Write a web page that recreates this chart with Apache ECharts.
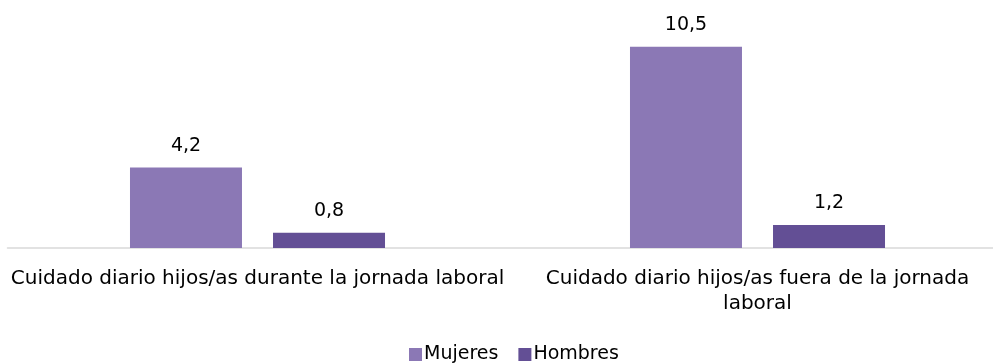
<!DOCTYPE html>
<html>
<head>
<meta charset="utf-8">
<script src="https://cdn.jsdelivr.net/npm/echarts@6/dist/echarts.min.js"></script>
<style>
  html, body { margin: 0; padding: 0; background: #fff; overflow: hidden; }
  #chart { width: 1008px; height: 364px; }
</style>
</head>
<body>
<div id="chart"></div>
<script>
// Daily childcare hours by sex
const categories = [
  'Cuidado diario hijos/as durante la jornada laboral',
  'Cuidado diario hijos/as fuera de la jornada\nlaboral'
];
const seriesNames = ['Mujeres', 'Hombres'];
const mujeres = [4.2, 10.5];
const hombres = [0.8, 1.2];

const FONT = 'DejaVu Sans';
const fmt = v => String(v).replace('.', ',');

const chart = echarts.init(document.getElementById('chart'));
chart.setOption({
  animation: false,
  textStyle: { fontFamily: FONT },
  grid: { left: 7.5, right: 0.5, top: 18, height: 230, containLabel: false },
  legend: {
    top: 340,
    left: 404,
    itemWidth: 13,
    itemHeight: 13,
    itemGap: 20,
    icon: 'rect',
    textStyle: { fontFamily: FONT, fontSize: 19, color: '#000', padding: [0, 0, 0, -3] },
    data: seriesNames
  },
  xAxis: {
    type: 'category',
    data: categories,
    axisLine: { lineStyle: { color: '#d9d9d9', width: 1.5 } },
    axisTick: { show: false },
    axisLabel: {
      fontFamily: FONT, fontSize: 20, color: '#000', margin: 18,
      lineHeight: 25, interval: 0, align: 'center'
    }
  },
  yAxis: {
    type: 'value', min: 0, max: 12,
    show: false,
    splitLine: { show: false }
  },
  series: [
    {
      name: seriesNames[0], type: 'bar', data: mujeres,
      barWidth: 112, barGap: '27.7%',
      itemStyle: { color: '#8b78b5' },
      label: { show: true, position: 'top', distance: 12, fontSize: 19, color: '#000', fontFamily: FONT,
               formatter: p => fmt(p.value) }
    },
    {
      name: seriesNames[1], type: 'bar', data: hombres,
      barWidth: 112, barGap: '27.7%',
      itemStyle: { color: '#634f95' },
      label: { show: true, position: 'top', distance: 12, fontSize: 19, color: '#000', fontFamily: FONT,
               formatter: p => fmt(p.value) }
    }
  ]
});
</script>
</body>
</html>
